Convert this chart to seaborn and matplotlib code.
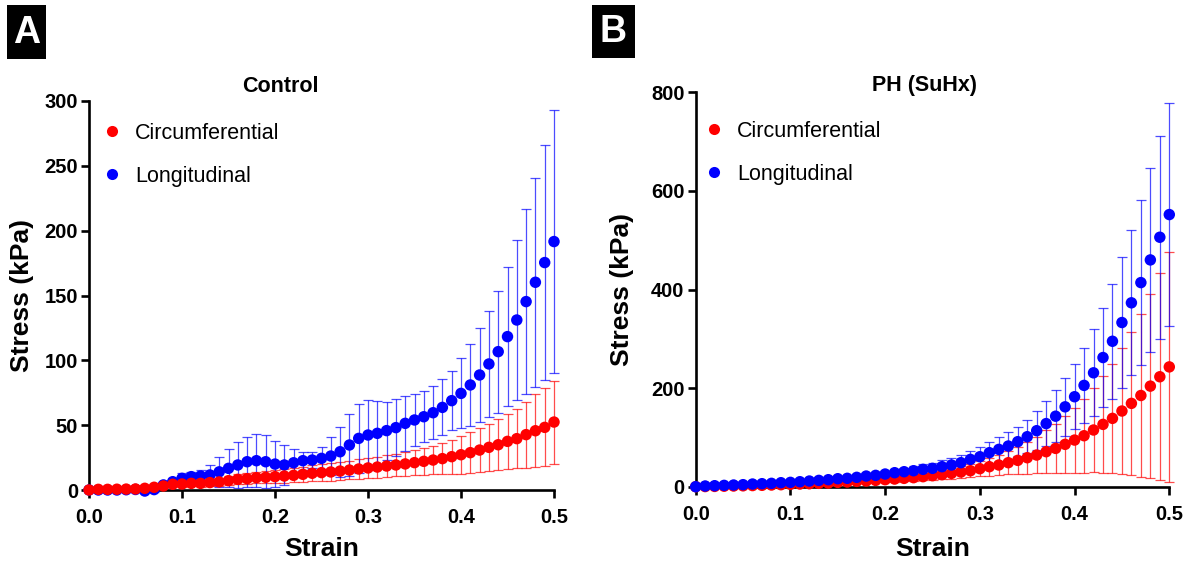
import numpy as np
import pandas as pd
import matplotlib
matplotlib.use("Agg")
import matplotlib.pyplot as plt
from matplotlib.patches import Rectangle
from matplotlib.lines import Line2D
import seaborn as sns

# ---------------- data ----------------
strain = [0.00, 0.01, 0.02, 0.03, 0.04, 0.05, 0.06, 0.07, 0.08, 0.09,
          0.10, 0.11, 0.12, 0.13, 0.14, 0.15, 0.16, 0.17, 0.18, 0.19,
          0.20, 0.21, 0.22, 0.23, 0.24, 0.25, 0.26, 0.27, 0.28, 0.29,
          0.30, 0.31, 0.32, 0.33, 0.34, 0.35, 0.36, 0.37, 0.38, 0.39,
          0.40, 0.41, 0.42, 0.43, 0.44, 0.45, 0.46, 0.47, 0.48, 0.49,
          0.50]

ctrl_circ_mean = [0, 0.5, 0.5, 0.6, 0.7, 0.8, 1.3, 2.1, 3.1, 4.4,
                  4.6, 5.1, 5.1, 5.7, 6.2, 7.2, 8.2, 8.7, 9.5, 9.8,
                  10.3, 10.8, 11.3, 12.1, 12.9, 13.4, 13.9, 14.6, 15.4, 16.2,
                  17.0, 17.7, 18.5, 19.3, 20.1, 21.1, 22.1, 23.1, 24.2, 25.7,
                  27.2, 28.8, 30.8, 32.9, 34.9, 37.5, 39.6, 42.7, 45.7, 48.3,
                  52.4]
ctrl_circ_sd = [0, 0.2, 0.3, 0.4, 0.5, 0.6, 0.8, 1.0, 1.3, 1.6,
                2.0, 2.3, 2.6, 2.9, 3.2, 3.5, 3.8, 4.1, 4.4, 4.7,
                5.0, 5.2, 5.4, 5.7, 6.0, 6.3, 6.6, 6.9, 7.2, 7.5,
                7.8, 8.1, 8.4, 8.7, 9.1, 9.5, 10.2, 11.0, 12.0, 13.2,
                14.5, 15.6, 16.7, 18.2, 19.6, 21.3, 23.0, 25.5, 28.0, 30.0,
                32.0]
ctrl_long_mean = [0, 0, 0, 0, 0.2, 0.4, -0.8, 0.3, 3.9, 6.4,
                  9.0, 10.3, 10.8, 11.6, 14.0, 16.7, 19.3, 21.8, 22.6, 21.8,
                  20.0, 19.3, 21.0, 22.6, 23.1, 24.4, 26.2, 29.5, 34.7, 39.8,
                  42.4, 43.7, 45.8, 48.1, 51.4, 54.0, 56.5, 59.6, 63.7, 68.9,
                  74.5, 81.0, 88.7, 97.2, 106.7, 118.3, 131.1, 145.3, 160.2, 175.4,
                  191.6]
ctrl_long_sd = [0, 0, 0, 0, 0.5, 1.0, 1.0, 1.5, 2.0, 3.0,
                3.9, 3.9, 4.6, 7.7, 11.6, 14.6, 18.0, 19.3, 20.6, 20.6,
                18.0, 15.4, 11.0, 6.9, 5.9, 9.0, 14.4, 19.3, 23.9, 26.5,
                27.0, 25.2, 22.4, 21.8, 21.0, 20.0, 19.8, 20.6, 21.6, 22.9,
                27.0, 31.4, 36.5, 41.0, 47.0, 53.5, 61.7, 71.2, 80.7, 90.7,
                101.5]

ph_circ_mean = [0, 0.3, 0.6, 1.0, 1.4, 1.8, 2.3, 2.8, 3.4, 4.0,
                4.7, 5.4, 6.0, 6.8, 7.4, 8.8, 9.5, 10.8, 11.5, 12.8,
                14.2, 15.5, 16.9, 18.3, 20.3, 22.3, 24.3, 27.0, 29.7, 32.4,
                36.5, 40.6, 44.0, 48.7, 53.4, 58.8, 64.2, 71.0, 77.7, 85.9,
                94.6, 103.4, 115.0, 126.4, 138.6, 153.5, 169.0, 185.0, 204.0, 223.0,
                243.0]
ph_circ_sd = [0, 0.1, 0.2, 0.3, 0.4, 0.5, 0.6, 0.8, 0.9, 1.0,
              1.2, 1.4, 1.6, 1.8, 2.0, 2.4, 2.7, 3.0, 3.5, 4.0,
              4.5, 5.0, 5.5, 6.0, 7.0, 8.0, 9.0, 10.5, 12.0, 13.5,
              15.5, 18.0, 20.0, 23.7, 27.4, 32.3, 37.2, 43.5, 49.7, 57.6,
              66.0, 74.7, 86.0, 98.0, 111.0, 127.5, 145.0, 165.0, 187.0, 210.0,
              234.0]
ph_long_mean = [0, 1.4, 2.0, 2.7, 3.4, 4.1, 5.4, 6.1, 6.8, 8.1,
                8.8, 10.1, 11.5, 12.8, 14.2, 16.2, 17.0, 19.0, 21.6, 23.0,
                25.7, 28.4, 30.4, 32.4, 35.2, 37.2, 40.6, 44.0, 48.7, 55.4,
                60.8, 69.0, 75.7, 82.5, 91.3, 101.4, 113.6, 128.0, 143.0, 162.0,
                182.5, 205.5, 231.0, 262.0, 295.0, 333.0, 373.0, 414.0, 460.0, 506.0,
                552.0]
ph_long_sd = [0, 0.2, 0.4, 0.5, 0.7, 0.9, 1.1, 1.3, 1.5, 1.8,
              2.0, 2.4, 2.7, 3.0, 3.5, 4.0, 4.5, 5.0, 5.5, 6.0,
              6.5, 7.0, 8.0, 9.0, 10.0, 11.5, 13.5, 15.0, 15.0, 17.6,
              20.0, 22.3, 25.7, 27.7, 29.0, 34.0, 40.0, 46.0, 52.7, 59.5,
              66.0, 76.0, 88.0, 101.0, 117.0, 132.0, 147.0, 167.0, 186.0, 206.0,
              226.0]

series_names = ["Circumferential", "Longitudinal"]
panel_titles = ["Control", "PH (SuHx)"]
panel_letters = ["A", "B"]
x_ticks = [0.0, 0.1, 0.2, 0.3, 0.4, 0.5]
y_ticks_ctrl = [0, 50, 100, 150, 200, 250, 300]
y_ticks_ph = [0, 200, 400, 600, 800]

RED = "#ff0000"
BLUE = "#0000ff"
palette = {"Circumferential": RED, "Longitudinal": BLUE}

# ---------------- style ----------------
sns.set_theme(style="ticks")
plt.rcParams["font.family"] = ["Liberation Sans", "DejaVu Sans"]
plt.rcParams["font.weight"] = "bold"
for k in ["text.color", "axes.labelcolor", "xtick.color", "ytick.color",
          "axes.edgecolor"]:
    plt.rcParams[k] = "black"

W, H = 1188, 565
fig = plt.figure(figsize=(W / 100, H / 100), dpi=100)


def fx(px):
    return px / W


def fy(py):
    return 1 - py / H


def make_df(circ_m, circ_s, long_m, long_s, top):
    d1 = pd.DataFrame({"Strain": strain, "Stress": circ_m, "SD": circ_s,
                       "Direction": series_names[0]})
    d2 = pd.DataFrame({"Strain": strain, "Stress": long_m, "SD": long_s,
                       "Direction": series_names[1]})
    return pd.concat([d2, d1] if top == series_names[0] else [d1, d2],
                     ignore_index=True)


panels = [
    dict(df=make_df(ctrl_circ_mean, ctrl_circ_sd, ctrl_long_mean, ctrl_long_sd,
                    "Circumferential"),
         box=(89, 554, 101, 490), ylim=(0, 300), yticks=y_ticks_ctrl,
         title=panel_titles[0], title_x=280, letter=panel_letters[0],
         letter_box=(7, 46, 5, 59), ylabel_x=22, leg=(103, 123)),
    dict(df=make_df(ph_circ_mean, ph_circ_sd, ph_long_mean, ph_long_sd,
                    "Longitudinal"),
         box=(695.7, 1169.3, 92.3, 486.7), ylim=(0, 800), yticks=y_ticks_ph,
         title=panel_titles[1], title_x=925, letter=panel_letters[1],
         letter_box=(592, 635, 5, 58), ylabel_x=622, leg=(705, 121)),
]

for p in panels:
    l, r, t, b = p["box"]
    ax = fig.add_axes([fx(l), fy(b), fx(r - l), (b - t) / H])
    df = p["df"]
    # error bars (behind points)
    for name in series_names:
        sub = df[df["Direction"] == name]
        eb = ax.errorbar(sub["Strain"], sub["Stress"], yerr=sub["SD"], fmt="none",
                         ecolor=palette[name], elinewidth=0.9, capsize=3.5,
                         capthick=0.9, alpha=0.7, zorder=2)
        for art in list(eb[1]) + list(eb[2]):
            art.set_clip_on(False)
    sns.scatterplot(data=df, x="Strain", y="Stress", hue="Direction",
                    palette=palette, s=68, linewidth=0, edgecolor="none",
                    legend=False, ax=ax, zorder=3, clip_on=False)

    ax.set_xlim(0, 0.5)
    ax.set_ylim(*p["ylim"])
    ax.set_xticks(x_ticks)
    ax.set_xticklabels([f"{v:.1f}" for v in x_ticks])
    ax.set_yticks(p["yticks"])
    ax.set_yticklabels([str(v) for v in p["yticks"]])
    for s in ["top", "right"]:
        ax.spines[s].set_visible(False)
    for s in ["left", "bottom"]:
        ax.spines[s].set_linewidth(1.9)
        ax.spines[s].set_color("black")
        ax.spines[s].set_zorder(2.5)
    ax.tick_params(axis="both", which="major", length=6, width=1.9,
                   color="black", labelcolor="black", labelsize=14.5,
                   direction="out")
    ax.tick_params(axis="x", pad=7)
    ax.tick_params(axis="y", pad=2)
    for lab in ax.get_xticklabels() + ax.get_yticklabels():
        lab.set_fontweight("bold")
    ax.set_xlabel("")
    ax.set_ylabel("")

    # axis labels
    fig.text(fx((l + r) / 2), fy(549), "Strain", ha="center", va="center",
             fontsize=19, fontweight="bold")
    fig.text(fx(p["ylabel_x"]), fy((t + b) / 2), "Stress (kPa)", ha="center",
             va="center", rotation=90, fontsize=19, fontweight="bold")
    # title
    fig.text(fx(p["title_x"]), fy(86), p["title"], ha="center", va="center",
             fontsize=15.5, fontweight="bold")
    # panel letter
    x0, x1, y0, y1 = p["letter_box"]
    fig.patches.append(Rectangle((fx(x0), fy(y1)), fx(x1 - x0), (y1 - y0) / H,
                                 transform=fig.transFigure, facecolor="black",
                                 edgecolor="none"))
    fig.text(fx((x0 + x1) / 2), fy((y0 + y1) / 2 + 1), p["letter"], ha="center",
             va="center", fontsize=27, fontweight="bold", color="white")

    # legend
    handles = [Line2D([], [], linestyle="none", marker="o", markersize=8,
                      markerfacecolor=palette[n], markeredgecolor="none", label=n)
               for n in series_names]
    lx, ly = p["leg"]
    ax.legend(handles=handles, loc="upper left",
              bbox_to_anchor=(fx(lx), fy(ly)),
              bbox_transform=fig.transFigure, frameon=False,
              prop={"size": 15.5, "weight": "normal"}, handlelength=0.8,
              handletextpad=0.7, labelspacing=1.0, borderpad=0,
              borderaxespad=0)

fig.savefig("out.png", dpi=100)
